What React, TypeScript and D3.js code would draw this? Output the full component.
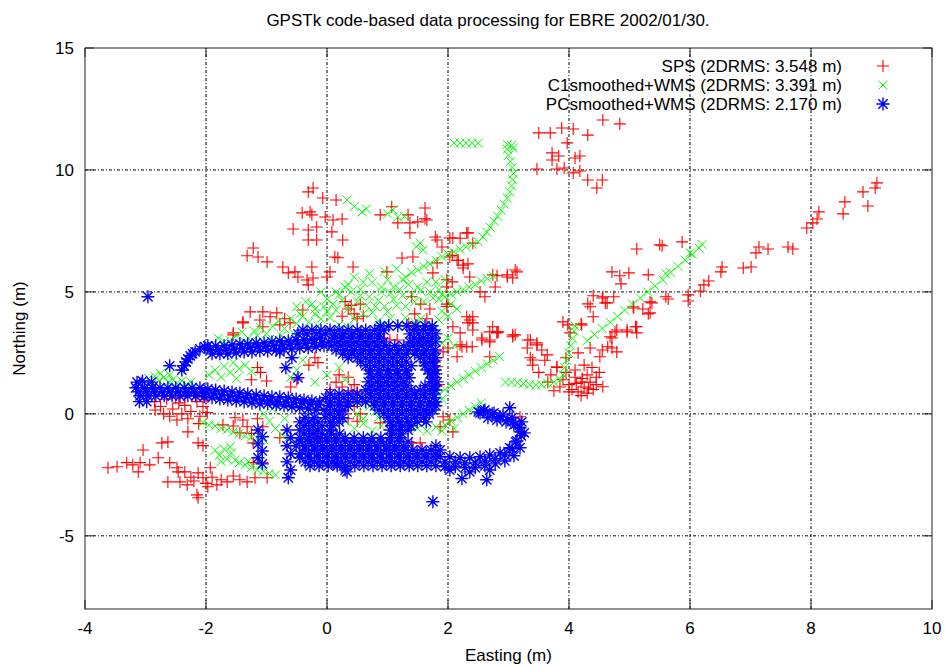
import React from "react";
import * as d3 from "d3";

// SPS solution (red +)
const spsPoints: [number, number][] = [
  // far upper-right trail
  [9.09, 9.47], [9.06, 9.26], [8.86, 9.1], [8.94, 8.52], [8.56, 8.69], [8.53, 8.2], [8.13, 8.28], [8.1, 7.99],
  [8.03, 7.83], [7.93, 7.62], [7.7, 6.76], [7.62, 6.84], [7.29, 6.76], [7.14, 6.84], [7.09, 6.6], [7.01, 6.02],
  [6.88, 5.98], [6.53, 6.02], [6.51, 5.82], [6.31, 5.45], [6.23, 5.29], [6.17, 5.04], [5.97, 4.88], [5.97, 4.63],
  [5.87, 7.05], [5.54, 6.89], [5.12, 6.76], [5.5, 6.93], [5.64, 4.71], [5.6, 4.8], [5.37, 4.55], [5.31, 4.1],
  [5.22, 4.3], [5.07, 4.34], [5.1, 3.57], [5.12, 3.32], [4.96, 3.36], [4.76, 3.36], [4.71, 5.82], [4.84, 5.66],
  [4.86, 5.33], [4.99, 5.78], [5.31, 5.7], [4.74, 4.8], [4.56, 4.8], [4.63, 4.55], [4.31, 4.51], [4.4, 3.98],
  [4.2, 3.69], [3.98, 3.65], [4.68, 3.16], [4.64, 2.75], [4.79, 2.54], [4.51, 2.34], [4.35, 2.7], [4.56, 1.11],
  [4.4, 4.84], [4.55, 4.75], [4.6, 4.55], [4.35, 4.39], [5.06, 4.39], [5.34, 4.59], [5.34, 4.14], [5.12, 3.57],
  [4.96, 3.44], [4.79, 3.44], [4.71, 3.11], [4.71, 2.7], [4.55, 2.62], [4.21, 3.65], [3.9, 3.77], [4.02, 3.32],
  // cluster near (4.2, 1.3)
  [3.9, 1.4], [4.0, 1.2], [4.1, 1.5], [4.2, 1.3], [4.3, 1.6], [4.05, 1.0], [4.15, 0.9], [4.25, 1.1],
  [4.35, 1.3], [4.45, 1.5], [4.4, 1.0], [4.3, 0.85], [4.2, 0.75], [3.95, 1.7], [4.1, 1.8], [4.25, 2.0],
  [4.38, 1.9], [4.5, 1.7], [3.85, 1.1], [4.0, 0.9], [4.45, 1.2], [4.12, 1.25], [4.22, 1.45], [4.32, 1.05],
  [3.8, 1.9], [3.7, 1.6], [3.6, 2.2], [3.95, 2.3], [4.15, 2.5], [3.75, 0.95], [3.65, 1.3], [3.5, 1.7], [3.4, 2.0],
  // top cluster near (4, 11)
  [4.56, 12.05], [4.84, 11.89], [4.31, 11.43], [4.07, 11.68], [3.88, 11.72], [3.69, 11.52], [3.5, 11.52],
  [3.97, 11.11], [3.72, 10.7], [3.83, 10.57], [3.72, 10.41], [4.1, 10.49], [4.18, 10.57], [3.47, 10.04],
  [3.8, 10.04], [3.92, 10.08], [4.07, 9.88], [4.18, 9.96], [4.31, 9.59], [4.55, 9.59], [4.46, 9.26],
  // middle right
  [3.14, 5.82], [2.98, 5.7], [2.81, 5.66], [2.61, 4.8], [2.53, 5.0], [3.11, 3.24], [3.32, 3.03], [3.31, 2.7],
  [3.47, 2.83], [2.69, 3.36], [2.36, 3.85], [2.41, 3.44], [2.2, 3.32], [2.23, 2.75], [2.4, 2.75], [2.69, 3.03],
  [2.56, 3.03], [2.81, 3.36], [2.69, 2.34], [2.31, 3.98], [2.41, 3.73], [2.83, 3.36], [3.07, 3.24], [2.08, 3.57],
  [2.41, 3.98], [2.33, 3.73], [2.74, 3.57], [2.81, 3.32], [2.56, 3.11], [2.69, 2.95], [2.2, 2.83], [2.31, 2.75],
  [2.0, 2.7], [1.92, 2.54], [2.15, 2.34], [3.07, 3.16], [3.36, 3.03], [3.47, 2.91], [3.55, 2.62], [3.64, 2.42],
  [3.8, 1.93], [3.36, 2.3], [3.4, 2.21], [3.19, -0.12], [1.75, 1.5], [1.85, 1.2], [1.8, 2.2],
  // upper middle
  [1.62, 8.44], [1.62, 8.0], [1.79, 7.25], [2.08, 7.21], [2.2, 7.2], [2.33, 7.42], [2.41, 7.0], [2.07, 6.5],
  [2.17, 6.3], [2.25, 6.1], [1.9, 6.84], [1.75, 5.78], [2.07, 5.41], [1.82, 7.13], [2.03, 7.21], [2.31, 7.42],
  [2.03, 6.43], [2.15, 6.3], [2.25, 5.98], [2.33, 6.15], [1.82, 6.19], [2.36, 5.61], [2.74, 5.7], [2.98, 5.61],
  [3.07, 5.57], [3.11, 5.9], [2.78, 5.2], [0.88, 8.16], [1.07, 8.49], [1.17, 7.83], [1.34, 8.16], [1.37, 7.83],
  [1.5, 7.87], [1.65, 7.95], [1.37, 7.42], [1.24, 6.39], [1.42, 6.43], [0.99, 5.82],
  // upper left
  [-0.31, 9.1], [-0.23, 9.26], [-0.07, 8.85], [0.15, 8.77], [-0.41, 8.24], [-0.28, 8.28], [-0.25, 8.16],
  [-0.03, 8.07], [0.1, 7.95], [0.25, 7.99], [-0.17, 7.66], [-0.56, 7.58], [-0.31, 7.54], [-0.31, 7.13],
  [-0.17, 7.13], [0.08, 7.46], [0.26, 7.13], [-1.22, 6.8], [-1.32, 6.48], [-1.14, 6.43], [-0.99, 6.23],
  [-0.73, 6.02], [-0.64, 5.78], [-0.53, 5.82], [-0.48, 5.61], [-0.33, 5.49], [-0.31, 5.29], [-0.23, 5.57],
  [-0.25, 6.02], [0.13, 6.43], [0.18, 6.4], [0.43, 6.02], [0.05, 5.82], [0.0, 5.61],
  [-1.27, 4.18], [-1.39, 3.77], [-1.11, 3.85], [-0.94, 3.98], [-0.83, 4.14], [-0.4, 4.26], [-1.55, 3.32],
  [-1.06, 3.57], [-0.78, 3.65], [-0.61, 3.73], [-1.06, 4.18], [-1.39, 3.73], [-1.55, 3.24], [-0.7, 3.9],
  // centre clusters
  [0.25, 4.0], [0.35, 4.3], [0.45, 4.1], [0.55, 4.5], [0.6, 4.0], [0.3, 4.6], [0.5, 3.9], [0.4, 4.45],
  [1.35, 3.7], [1.45, 4.1], [1.55, 4.5], [1.65, 3.9], [1.4, 4.8], [1.7, 4.3], [1.5, 3.6], [1.16, 3.03],
  [1.54, 3.03], [1.82, 1.93], [1.98, 4.5], [1.98, 5.2], [1.04, 3.03], [0.95, 3.1], [1.98, 4.4], [1.98, 5.5],
  [-0.17, -0.94], [-0.28, -1.07], [1.4, -1.19], [1.54, -1.19], [0.88, -0.37], [1.65, 0.04], [1.92, -0.12],
  [2.03, -0.25], [2.08, -0.74], [1.87, -0.53], [0.25, 0.1], [0.35, -0.2], [0.45, 0.3], [0.55, 0.0],
  [0.3, 0.35], [0.5, -0.3], [-0.3, 2.0], [-0.2, 2.3], [-0.15, 2.1], [0.05, 1.0], [0.15, 1.3], [0.25, 1.1],
  [0.35, 1.5], [0.45, 1.2], [0.5, 0.9], [0.2, 1.6], [0.4, 0.95], [-0.2, -0.8], [-0.1, -1.0],
  [-1.25, 1.4], [-1.1, 1.7], [-1.0, 1.35], [-1.15, 1.9], [-0.6, 1.1], [-0.5, 1.4],
  // lower left
  [-3.62, -2.21], [-3.47, -2.17], [-3.31, -2.0], [-3.21, -2.09], [-3.12, -2.38], [-3.09, -2.0], [-2.93, -2.09],
  [-3.04, -1.48], [-2.79, -1.8], [-2.63, -1.15], [-2.73, -1.19], [-2.6, -2.0], [-2.48, -2.21], [-2.63, -2.79],
  [-2.43, -2.79], [-2.31, -2.91], [-2.46, -2.38], [-2.35, -2.38], [-2.15, -3.32], [-2.13, -3.44], [-2.13, -2.42],
  [-2.05, -2.62], [-1.97, -2.99], [-1.82, -2.91], [-1.65, -2.79], [-1.44, -2.7], [-1.32, -2.79], [-1.19, -2.62],
  [-0.99, -2.62], [-1.07, -2.0], [-1.22, -2.0], [-1.93, -2.21], [-2.2, -2.75], [-1.9, -2.6], [-1.75, -2.7],
  [-1.55, -2.55], [-2.0, -2.85], [-2.25, -2.6], [-2.84, 0.16], [-2.48, -0.25], [-2.3, -0.74], [-2.13, -1.19],
  [-2.05, -1.3], [-2.85, 0.5], [-2.75, 0.3], [-2.65, 0.6], [-2.55, 0.2], [-2.45, 0.45], [-2.35, 0.7],
  [-2.25, 0.1], [-2.15, 0.5], [-2.05, 0.3], [-2.2, 0.85], [-2.4, 0.0], [-2.6, -0.1], [-2.3, -0.2],
  [-2.1, -0.1], [-2.0, 0.6], [-2.5, 0.65], [-2.7, 0.0], [-1.98, 0.05], [-2.12, -0.4], [-2.35, 0.35],
  [-2.05, 0.85], [-1.22, -1.19], [-1.72, -0.45], [-1.52, -0.16], [-1.39, -0.25], [-1.32, -0.53],
  [-1.44, -0.78], [-1.25, -0.8], [-1.06, -0.53], [-0.78, -0.98], [-1.55, -0.5], [-1.15, -0.2],
];

// C1 smoothed + WMS (green x)
const c1WmsPoints: [number, number][] = [
  [-2.95, 1.45], [-2.85, 1.55], [-2.78, 1.35], [-2.7, 1.5], [-2.62, 1.3], [-2.9, 1.2], [-2.55, 1.4],
  [-2.48, 1.25], [-2.4, 1.35], [-2.32, 1.2], [-2.25, 1.3], [-2.75, 1.65], [-2.6, 1.6],
  [-1.95, 1.6], [-1.85, 1.8], [-1.75, 1.5], [-1.7, 1.95], [-1.6, 1.7], [-1.55, 2.1], [-1.45, 1.85],
  [-1.5, 1.45], [-1.35, 2.0], [-1.25, 1.75],
  [-1.6, 3.0], [-1.5, 3.2], [-1.4, 3.35], [-1.3, 3.1], [-1.2, 3.4], [-1.1, 3.55], [-1.0, 3.3], [-0.9, 3.6],
  [-0.8, 3.8], [-0.7, 3.5], [-0.6, 3.9], [-0.5, 3.7], [-0.4, 4.0], [-0.3, 3.75], [-0.2, 4.1], [-0.1, 3.9],
  [0.0, 4.2], [-1.7, 2.95], [-1.8, 3.1],
  [-0.5, 4.4], [-0.35, 4.6], [-0.2, 4.3], [0.0, 4.7], [0.1, 4.5], [0.2, 4.9], [0.35, 4.3], [0.5, 4.6],
  [0.6, 4.1], [0.7, 4.8], [0.8, 4.4], [0.9, 5.0], [1.0, 4.2], [1.1, 4.7], [1.2, 5.1], [1.3, 4.4], [1.4, 4.9],
  [1.5, 5.2], [1.6, 4.6], [1.7, 5.0], [1.8, 5.4], [1.9, 4.9], [0.3, 5.2], [0.6, 5.4], [1.0, 5.5], [1.3, 5.6],
  [0.85, 3.8], [1.2, 3.7], [1.55, 3.9], [1.75, 3.6], [1.9, 4.2], [2.05, 4.5], [-0.1, 5.0], [0.45, 3.9],
  [0.15, 5.0], [0.35, 5.3], [0.55, 5.1], [0.75, 5.4], [0.9, 5.2], [1.1, 5.2], [1.25, 5.5], [1.4, 5.8],
  [-0.45, 4.1], [-0.25, 4.5], [-0.05, 4.4], [0.15, 4.25], [0.25, 4.65], [0.4, 5.0], [0.55, 4.85], [0.65, 4.45],
  [0.75, 4.15], [0.85, 4.65], [0.95, 4.4], [1.05, 4.95], [1.15, 4.45], [1.25, 4.85], [1.35, 5.3], [1.45, 4.6],
  [1.55, 5.05], [1.65, 5.4], [1.75, 4.75], [1.85, 5.1], [1.95, 5.5], [0.95, 3.65], [1.05, 3.9], [1.3, 3.95],
  [1.45, 3.75], [1.65, 3.55], [1.85, 3.85], [2.0, 4.0], [2.15, 4.3], [0.05, 3.95], [0.2, 3.65], [0.35, 3.55],
  [-0.15, 3.6], [-0.55, 3.3], [-0.75, 3.2], [-0.95, 3.05], [-1.15, 3.2], [-1.35, 2.95],
  [0.45, 5.6], [0.7, 5.75], [0.95, 5.85], [1.15, 5.95],
  [1.85, 4.7], [1.95, 4.8], [2.05, 4.9], [2.15, 5.0], [2.25, 5.1], [2.35, 5.2], [2.45, 5.3], [2.55, 5.45],
  [2.65, 5.55], [2.75, 5.65],
  [1.5, 5.9], [1.6, 6.05], [1.7, 6.15], [1.8, 6.3], [1.9, 6.45], [2.0, 6.55], [2.1, 6.65], [2.2, 6.75],
  [2.3, 6.85], [2.4, 6.95], [2.5, 7.05], [2.58, 7.25], [2.64, 7.45], [2.7, 7.65], [2.76, 7.9], [2.82, 8.1],
  [2.88, 8.35], [2.93, 8.6], [2.98, 8.85], [3.02, 9.1], [3.05, 9.35], [3.07, 9.6], [3.08, 9.85], [3.06, 10.1],
  [3.03, 10.35], [3.0, 10.6], [2.98, 10.85], [2.98, 11.05], [3.05, 11.0], [3.08, 10.9],
  [2.1, 11.1], [2.2, 11.1], [2.3, 11.1], [2.4, 11.1], [2.5, 11.1],
  [0.33, 8.77], [0.45, 8.5], [0.58, 8.28], [0.65, 8.4], [1.09, 8.36], [1.17, 8.07], [1.0, 8.2], [1.28, 8.1],
  [1.54, 7.0], [1.59, 6.72], [1.48, 6.85],
  [-2.05, -0.35], [-1.95, -0.45], [-1.85, -0.5], [-1.75, -0.6], [-1.65, -0.65], [-1.55, -0.75], [-1.45, -0.8],
  [-1.35, -0.9], [-1.25, -0.95], [-1.15, -1.0], [-1.05, -1.05],
  [-1.85, -1.5], [-1.78, -1.7], [-1.7, -1.45], [-1.65, -1.85], [-1.58, -1.6], [-1.52, -1.9], [-1.75, -1.95],
  [-1.6, -1.35], [-1.45, -2.0], [-1.35, -2.1], [-1.25, -2.2], [-1.15, -2.3], [-1.05, -2.35], [-0.95, -2.45],
  [-0.85, -2.5], [-1.3, -1.95], [-1.1, -2.1],
  [-1.05, 0.0], [-0.95, -0.3], [-0.85, -0.6], [-0.75, -0.85], [-0.65, -1.0], [-0.9, 0.2], [-0.7, -0.2],
  [0.5, 0.0], [0.6, -0.2], [0.7, 0.3], [0.8, 0.1], [0.85, -0.15], [0.55, 0.45],
  [0.3, -0.3], [0.45, -0.6], [0.6, -0.4], [0.75, -0.7], [0.9, -0.5],
  [1.2, -0.3], [1.35, -0.5], [1.5, -0.6], [1.65, -0.7], [1.8, -0.55], [1.95, -0.45], [2.05, -0.3], [2.15, -0.15],
  [2.25, 0.0], [2.35, 0.15], [2.45, 0.3], [2.55, 0.45], [1.9, -0.7], [2.1, -0.6],
  [1.95, 1.0], [2.05, 1.15], [2.15, 1.3], [2.25, 1.45], [2.35, 1.6], [2.45, 1.75], [2.55, 1.9], [2.65, 2.05],
  [2.75, 2.2], [2.85, 2.35], [1.85, 0.8], [1.9, 0.6],
  [2.95, 1.3], [3.05, 1.3], [3.15, 1.28], [3.25, 1.25], [3.35, 1.2], [3.45, 1.18], [3.55, 1.2], [3.65, 1.25],
  [3.75, 1.3], [3.85, 1.4],
  [3.9, 1.6], [3.93, 1.9], [3.96, 2.2], [4.0, 2.5], [4.03, 2.8], [4.06, 3.1], [4.08, 3.4], [4.1, 3.6],
  [4.3, 3.0], [4.42, 3.25], [4.55, 3.5], [4.68, 3.75], [4.8, 4.0], [4.92, 4.25], [5.05, 4.5], [5.18, 4.75],
  [5.3, 5.0], [5.42, 5.25], [5.55, 5.5], [5.68, 5.8], [5.8, 6.05], [5.92, 6.3], [6.04, 6.55], [6.15, 6.8],
  [6.2, 6.95], [6.0, 6.6], [5.6, 5.75],
  [1.9, 2.9], [2.0, 3.1], [1.8, 3.2], [2.1, 2.8], [-0.2, 1.3], [0.0, 1.6], [0.2, 1.9], [0.3, 1.4],
  [-0.5, 1.8], [-0.4, 2.2], [-0.6, 1.5],
];

// PC smoothed + WMS (blue *)
const pcWmsPoints: [number, number][] = [
  // western tail and lower track
  [-3.16, 1.07], [-3.09, 0.74], [-3.02, 1.07], [-2.96, 0.74], [-2.89, 1.07], [-2.83, 0.74], [-2.76, 1.07],
  [-2.69, 0.74], [-2.63, 1.07], [-2.56, 0.74], [-2.5, 1.07], [-2.43, 0.74], [-2.36, 1.07], [-2.3, 0.74],
  [-2.23, 1.07], [-2.17, 0.74], [-2.1, 1.07], [-2.03, 0.7], [-1.97, 1.02], [-1.9, 0.66], [-1.84, 0.98],
  [-1.77, 0.61], [-1.7, 0.94], [-1.64, 0.57], [-1.57, 0.9], [-1.5, 0.53], [-1.44, 0.86], [-1.37, 0.49],
  [-1.31, 0.82], [-1.24, 0.45], [-1.17, 0.78], [-1.11, 0.41], [-1.04, 0.74], [-0.98, 0.41], [-0.91, 0.7],
  [-0.84, 0.37], [-0.78, 0.7], [-0.71, 0.33], [-0.64, 0.66], [-0.58, 0.29], [-0.51, 0.61], [-0.45, 0.25],
  [-0.38, 0.57], [-0.31, 0.2], [-0.25, 0.53], [-0.18, 0.16], [-0.12, 0.49], [-0.05, 0.16],
  [-3.12, 0.9], [-2.99, 0.9], [-2.86, 0.9], [-2.73, 0.9], [-2.6, 0.9], [-2.46, 0.9], [-2.33, 0.9], [-2.2, 0.9],
  [-2.07, 0.9], [-2.0, 0.86], [-1.87, 0.82], [-1.74, 0.78], [-1.6, 0.74], [-1.47, 0.7], [-1.34, 0.66],
  [-1.21, 0.61], [-1.07, 0.57], [-0.94, 0.53], [-0.81, 0.49], [-0.68, 0.49], [-0.55, 0.45], [-0.41, 0.45],
  [-0.28, 0.41], [-0.15, 0.37],
  [-3.14, 1.3], [-3.05, 1.35], [-3.1, 0.5], [-2.98, 0.5], [-2.9, 1.3],
  // upper arc
  [-2.4, 1.8], [-2.33, 2.13], [-2.26, 2.38], [-2.18, 2.54], [-2.1, 2.66], [-2.02, 2.75], [-1.97, 2.79],
  [-1.9, 2.46], [-1.84, 2.79], [-1.77, 2.46], [-1.7, 2.79], [-1.64, 2.46], [-1.57, 2.83], [-1.5, 2.5],
  [-1.44, 2.87], [-1.37, 2.54], [-1.31, 2.87], [-1.24, 2.54], [-1.17, 2.91], [-1.11, 2.58], [-1.04, 2.91],
  [-0.98, 2.58], [-0.91, 2.95], [-0.84, 2.62], [-0.78, 2.99], [-0.71, 2.66], [-0.64, 2.99], [-0.58, 2.66],
  [-0.51, 3.03], [-0.45, 2.7], [-0.38, 3.03], [-0.31, 2.7], [-0.25, 3.07], [-0.18, 2.75], [-0.12, 3.11],
  [-0.05, 2.79],
  [-2.36, 1.97], [-2.3, 2.25], [-2.22, 2.46], [-1.93, 2.62], [-1.8, 2.62], [-1.67, 2.62], [-1.54, 2.66],
  [-1.4, 2.7], [-1.27, 2.72], [-1.14, 2.75], [-1.01, 2.77], [-0.88, 2.79], [-0.74, 2.83], [-0.61, 2.85],
  [-0.48, 2.87], [-0.35, 2.89], [-0.21, 2.91], [-0.08, 2.93],
  // central knot
  [0.88, 3.61], [1.02, 3.61], [1.17, 3.61], [1.32, 3.61], [1.47, 3.61], [1.62, 3.61], [1.74, 3.61],
  [-0.4, 3.44], [-0.25, 3.44], [-0.1, 3.44], [0.05, 3.44], [0.2, 3.44], [0.35, 3.44], [0.5, 3.44], [0.64, 3.44],
  [0.79, 3.44], [0.94, 3.44], [1.44, 3.44], [1.59, 3.44], [1.74, 3.44],
  [-0.48, 3.28], [-0.33, 3.28], [-0.18, 3.28], [-0.03, 3.28], [0.12, 3.28], [0.26, 3.28], [0.41, 3.28],
  [0.56, 3.28], [0.71, 3.28], [0.86, 3.28], [1.37, 3.28], [1.52, 3.28], [1.67, 3.28], [1.8, 3.28],
  [0.12, 3.11], [0.26, 3.11], [0.41, 3.11], [0.56, 3.11], [0.71, 3.11], [0.86, 3.11], [1.44, 3.11], [1.59, 3.11],
  [1.74, 3.11],
  [0.03, 2.95], [0.18, 2.95], [0.33, 2.95], [0.48, 2.95], [0.63, 2.95], [0.78, 2.95], [0.93, 2.95],
  [1.37, 2.95], [1.52, 2.95], [1.67, 2.95], [1.8, 2.95],
  [0.08, 2.79], [0.23, 2.79], [0.38, 2.79], [0.53, 2.79], [0.68, 2.79], [0.83, 2.79], [0.98, 2.79], [1.12, 2.79],
  [1.27, 2.79], [1.42, 2.79], [1.57, 2.79], [1.72, 2.79],
  [0.15, 2.62], [0.3, 2.62], [0.45, 2.62], [0.6, 2.62], [0.74, 2.62], [0.89, 2.62], [1.04, 2.62], [1.19, 2.62],
  [1.34, 2.62], [1.49, 2.62], [1.64, 2.62], [1.79, 2.62],
  [0.26, 2.46], [0.41, 2.46], [0.56, 2.46], [0.71, 2.46], [0.86, 2.46], [1.01, 2.46], [1.16, 2.46], [1.31, 2.46],
  [1.45, 2.46], [1.6, 2.46], [1.75, 2.46],
  [0.35, 2.3], [0.5, 2.3], [0.64, 2.3], [0.79, 2.3], [0.94, 2.3], [1.09, 2.3], [1.24, 2.3], [1.54, 2.3],
  [1.69, 2.3], [1.8, 2.3],
  [0.56, 2.13], [0.71, 2.13], [0.86, 2.13], [1.01, 2.13], [1.16, 2.13], [1.31, 2.13], [1.62, 2.13], [1.75, 2.13],
  [0.64, 1.97], [0.79, 1.97], [0.94, 1.97], [1.09, 1.97], [1.24, 1.97], [1.39, 1.97], [1.62, 1.97], [1.77, 1.97],
  [0.71, 1.8], [0.86, 1.8], [1.01, 1.8], [1.16, 1.8], [1.31, 1.8], [1.67, 1.8], [1.79, 1.8],
  [0.71, 1.64], [0.86, 1.64], [1.01, 1.64], [1.16, 1.64], [1.31, 1.64], [1.7, 1.64], [1.8, 1.64],
  [0.76, 1.48], [0.91, 1.48], [1.06, 1.48], [1.21, 1.48], [1.36, 1.48], [1.74, 1.48],
  [0.68, 1.31], [0.83, 1.31], [0.98, 1.31], [1.12, 1.31], [1.27, 1.31], [1.72, 1.31], [1.82, 1.31],
  [0.73, 1.15], [0.88, 1.15], [1.02, 1.15], [1.17, 1.15], [1.32, 1.15], [1.62, 1.15], [1.77, 1.15],
  [0.64, 0.98], [0.79, 0.98], [0.94, 0.98], [1.09, 0.98], [1.24, 0.98], [1.39, 0.98], [1.54, 0.98],
  [1.69, 0.98], [1.8, 0.98],
  [0.05, 0.82], [0.2, 0.82], [0.35, 0.82], [0.5, 0.82], [0.71, 0.82], [0.86, 0.82], [1.01, 0.82], [1.16, 0.82],
  [1.31, 0.82], [1.45, 0.82], [1.6, 0.82], [1.75, 0.82],
  [-0.02, 0.66], [0.13, 0.66], [0.28, 0.66], [0.43, 0.66], [0.58, 0.66], [0.73, 0.66], [0.88, 0.66],
  [1.02, 0.66], [1.17, 0.66], [1.32, 0.66], [1.47, 0.66], [1.62, 0.66], [1.77, 0.66],
  [0.05, 0.49], [0.2, 0.49], [0.35, 0.49], [0.5, 0.49], [0.64, 0.49], [0.79, 0.49], [0.94, 0.49], [1.09, 0.49],
  [1.24, 0.49], [1.39, 0.49], [1.54, 0.49], [1.69, 0.49], [1.8, 0.49],
  [0.05, 0.33], [0.2, 0.33], [0.35, 0.33], [0.79, 0.33], [0.94, 0.33], [1.09, 0.33], [1.24, 0.33], [1.39, 0.33],
  [1.54, 0.33], [1.69, 0.33], [1.8, 0.33],
  [0.12, 0.16], [0.26, 0.16], [0.86, 0.16], [1.01, 0.16], [1.16, 0.16], [1.31, 0.16], [1.45, 0.16], [1.6, 0.16],
  [1.75, 0.16],
  [0.05, 0.0], [0.2, 0.0], [0.94, 0.0], [1.09, 0.0], [1.24, 0.0], [1.39, 0.0], [1.54, 0.0], [1.69, 0.0],
  [-0.36, -0.16], [-0.21, -0.16], [-0.03, -0.16], [0.12, -0.16], [0.26, -0.16], [1.01, -0.16], [1.16, -0.16],
  [1.31, -0.16], [1.45, -0.16], [1.6, -0.16],
  [-0.45, -0.33], [-0.3, -0.33], [-0.15, -0.33], [0.05, -0.33], [0.2, -0.33], [1.04, -0.33], [1.19, -0.33],
  [1.34, -0.33], [1.49, -0.33], [1.64, -0.33],
  [-0.38, -0.49], [-0.23, -0.49], [-0.08, -0.49], [0.1, -0.49], [1.09, -0.49], [1.24, -0.49], [1.39, -0.49],
  [-0.45, -0.66], [-0.3, -0.66], [-0.15, -0.66], [0.05, -0.66], [1.04, -0.66], [1.19, -0.66], [1.34, -0.66],
  [-0.38, -0.82], [-0.23, -0.82], [-0.08, -0.82], [0.07, -0.82], [0.21, -0.82], [1.09, -0.82], [1.24, -0.82],
  [-0.45, -0.98], [-0.3, -0.98], [-0.15, -0.98], [0.0, -0.98], [0.15, -0.98], [0.3, -0.98], [0.45, -0.98],
  [0.6, -0.98], [0.74, -0.98], [0.89, -0.98], [1.04, -0.98], [1.19, -0.98],
  [-0.45, -1.15], [-0.3, -1.15], [-0.15, -1.15], [0.0, -1.15], [0.15, -1.15], [0.3, -1.15], [0.45, -1.15],
  [0.6, -1.15], [0.74, -1.15], [0.89, -1.15], [1.04, -1.15], [1.19, -1.15], [1.34, -1.15],
  [-0.51, -1.31], [-0.36, -1.31], [-0.21, -1.31], [-0.07, -1.31], [0.08, -1.31], [0.23, -1.31], [0.38, -1.31],
  [0.53, -1.31], [0.68, -1.31], [0.83, -1.31], [0.98, -1.31], [1.12, -1.31], [1.27, -1.31], [1.8, -1.31],
  [-0.36, -1.48], [-0.21, -1.48], [-0.07, -1.48], [0.08, -1.48], [0.23, -1.48], [0.38, -1.48], [0.53, -1.48],
  [0.68, -1.48], [0.83, -1.48], [0.98, -1.48], [1.12, -1.48], [1.27, -1.48], [1.42, -1.48], [1.57, -1.48],
  [1.72, -1.48], [1.87, -1.48],
  [-0.45, -1.64], [-0.3, -1.64], [-0.15, -1.64], [0.0, -1.64], [0.15, -1.64], [0.3, -1.64], [0.45, -1.64],
  [0.6, -1.64], [0.74, -1.64], [0.89, -1.64], [1.04, -1.64], [1.19, -1.64], [1.34, -1.64], [1.49, -1.64],
  [1.64, -1.64], [1.79, -1.64],
  [-0.45, -1.8], [-0.3, -1.8], [-0.15, -1.8], [0.0, -1.8], [0.15, -1.8], [0.3, -1.8], [0.45, -1.8],
  [0.6, -1.8], [0.74, -1.8], [0.89, -1.8], [1.04, -1.8], [1.19, -1.8], [1.34, -1.8], [1.49, -1.8],
  [1.64, -1.8], [1.79, -1.8],
  [-0.36, -1.97], [-0.21, -1.97], [-0.07, -1.97], [0.08, -1.97], [0.23, -1.97], [0.38, -1.97], [0.53, -1.97],
  [0.68, -1.97], [0.83, -1.97], [0.98, -1.97], [1.12, -1.97], [1.27, -1.97], [1.42, -1.97], [1.57, -1.97],
  [1.72, -1.97],
  [-0.28, -2.13], [-0.13, -2.13], [0.02, -2.13], [0.17, -2.13], [0.31, -2.13], [0.46, -2.13], [0.61, -2.13],
  [0.76, -2.13], [0.91, -2.13], [1.06, -2.13], [1.21, -2.13], [1.36, -2.13], [1.5, -2.13], [1.65, -2.13],
  [1.8, -2.13],
  [-0.78, 2.54], [-0.58, 2.3], [-0.68, 1.89], [-0.48, 1.48],
  // short southward strokes
  [-1.14, -0.66], [-1.07, -0.94], [-1.14, -1.23], [-1.07, -1.52], [-1.14, -1.8], [-1.07, -2.05],
  [-0.66, -0.66], [-0.6, -0.98], [-0.66, -1.31], [-0.6, -1.64], [-0.66, -1.97], [-0.6, -2.3], [-0.64, -2.62],
  // eastern hook
  [1.87, -1.76], [1.95, -2.17], [2.03, -1.76], [2.12, -2.17], [2.2, -1.8], [2.28, -2.21], [2.36, -1.8],
  [2.45, -2.21], [2.53, -1.76], [2.61, -2.13], [2.69, -1.68], [2.78, -2.05], [2.86, -1.6], [2.94, -1.93],
  [3.02, -1.39], [3.09, -1.72], [3.12, -1.15], [3.19, -1.39], [3.21, -0.9], [3.26, -0.78], [3.19, -0.57],
  [3.22, -0.33], [3.09, -0.45], [3.06, -0.16], [2.96, -0.33], [2.91, -0.04], [2.81, -0.25], [2.76, 0.04],
  [2.66, -0.16], [2.61, 0.16], [2.53, 0.04], [2.03, -2.3], [2.36, -2.38], [2.69, -2.3],
  [1.95, -1.97], [2.12, -1.97], [2.28, -2.01], [2.45, -2.01], [2.61, -1.93], [2.78, -1.84], [2.94, -1.68],
  [3.06, -1.43], [3.14, -1.11], [3.19, -0.74], [3.12, -0.41], [2.99, -0.25], [2.86, -0.12], [2.73, 0.0],
  [2.59, 0.12], [2.5, 0.08],
  // isolated epochs
  [-2.96, 4.8], [1.75, -3.6], [2.23, -2.65], [2.64, -2.7], [3.02, 0.25], [0.3, -2.3], [-2.6, 1.97],
  [0.33, -2.38], [0.17, -2.05],
];

const xTicks = [-4, -2, 0, 2, 4, 6, 8, 10];
const yTicks = [-5, 0, 5, 10, 15];
const legendLabels = [
  "SPS (2DRMS: 3.548 m)",
  "C1smoothed+WMS (2DRMS: 3.391 m)",
  "PCsmoothed+WMS (2DRMS: 2.170 m)",
];
const titleText = "GPSTk code-based data processing for EBRE 2002/01/30.";

const FONT = "'Liberation Sans', Arial, Helvetica, sans-serif";

const plusPath = (cx: number, cy: number, r: number) =>
  `M${cx - r},${cy}H${cx + r}M${cx},${cy - r}V${cy + r}`;
const crossPath = (cx: number, cy: number, r: number) =>
  `M${cx - r},${cy - r}L${cx + r},${cy + r}M${cx - r},${cy + r}L${cx + r},${cy - r}`;
const starPath = (cx: number, cy: number, r: number) =>
  plusPath(cx, cy, r) + crossPath(cx, cy, r * 0.72);

const markers = [
  { color: "#ff0000", shape: (cx: number, cy: number) => plusPath(cx, cy, 6), width: 1.1 },
  { color: "#00ff00", shape: (cx: number, cy: number) => crossPath(cx, cy, 4.5), width: 1 },
  { color: "#0000ff", shape: (cx: number, cy: number) => starPath(cx, cy, 6.5), width: 1.4 },
];

export default function App() {
  const width = 946;
  const height = 666;
  const margin = { top: 48, right: 14, bottom: 57, left: 85 };

  const x = d3.scaleLinear().domain([-4, 10]).range([margin.left, width - margin.right]);
  const y = d3.scaleLinear().domain([-8, 15]).range([height - margin.bottom, margin.top]);

  const [x0, x1] = x.range();
  const [y0, y1] = y.range(); // y0 bottom, y1 top
  const tick = 9;

  const series = [spsPoints, c1WmsPoints, pcWmsPoints];

  return (
    <svg
      width={width}
      height={height}
      style={{ position: "absolute", left: 0, top: 0, background: "#fff" }}
      fontFamily={FONT}
    >
      <rect width={width} height={height} fill="#fff" />
      <text x={488} y={26} fontSize={17} textAnchor="middle" fill="#000">
        {titleText}
      </text>

      {/* grid */}
      <g stroke="#000" strokeWidth={1} strokeDasharray="3,2,1,2">
        {xTicks
          .filter((t) => t > -4 && t < 10)
          .map((t) => (
            <line key={"gx" + t} x1={x(t)} x2={x(t)} y1={y0} y2={y1} />
          ))}
        {yTicks
          .filter((t) => t < 15)
          .map((t) => (
            <line key={"gy" + t} x1={x0} x2={x1} y1={y(t)} y2={y(t)} />
          ))}
      </g>

      {/* points: red first, blue on top */}
      {series.map((pts, si) => (
        <g key={"s" + si} stroke={markers[si].color} strokeWidth={markers[si].width} fill="none">
          {pts.map((d, i) => (
            <path key={i} d={markers[si].shape(x(d[0]), y(d[1]))} />
          ))}
        </g>
      ))}

      {/* frame and ticks */}
      <g stroke="#222" strokeWidth={1} fill="none">
        <rect x={x0} y={y1} width={x1 - x0} height={y0 - y1} />
        {xTicks.map((t) => (
          <g key={"tx" + t}>
            <line x1={x(t)} x2={x(t)} y1={y0} y2={y0 - tick} />
            <line x1={x(t)} x2={x(t)} y1={y1} y2={y1 + tick} />
          </g>
        ))}
        {yTicks.map((t) => (
          <g key={"ty" + t}>
            <line x1={x0} x2={x0 + tick} y1={y(t)} y2={y(t)} />
            <line x1={x1} x2={x1 - tick} y1={y(t)} y2={y(t)} />
          </g>
        ))}
      </g>

      {/* tick labels */}
      <g fontSize={17} fill="#000">
        {xTicks.map((t) => (
          <text key={"lx" + t} x={x(t)} y={y0 + 25} textAnchor="middle">
            {t}
          </text>
        ))}
        {yTicks.map((t) => (
          <text key={"ly" + t} x={x0 - 11} y={y(t) + 6} textAnchor="end">
            {t}
          </text>
        ))}
      </g>

      <text x={(x0 + x1) / 2} y={661} fontSize={17} textAnchor="middle" fill="#000">
        Easting (m)
      </text>
      <text
        transform={`translate(25,${(y0 + y1) / 2}) rotate(-90)`}
        fontSize={17}
        textAnchor="middle"
        fill="#000"
      >
        Northing (m)
      </text>

      {/* legend */}
      <g>
        {legendLabels.map((label, i) => {
          const cy = 66 + i * 19;
          return (
            <g key={"lg" + i}>
              <text x={842} y={cy + 6} fontSize={17} textAnchor="end" fill="#000">
                {label}
              </text>
              <path
                d={markers[i].shape(883, cy)}
                stroke={markers[i].color}
                strokeWidth={markers[i].width}
                fill="none"
              />
            </g>
          );
        })}
      </g>
    </svg>
  );
}
